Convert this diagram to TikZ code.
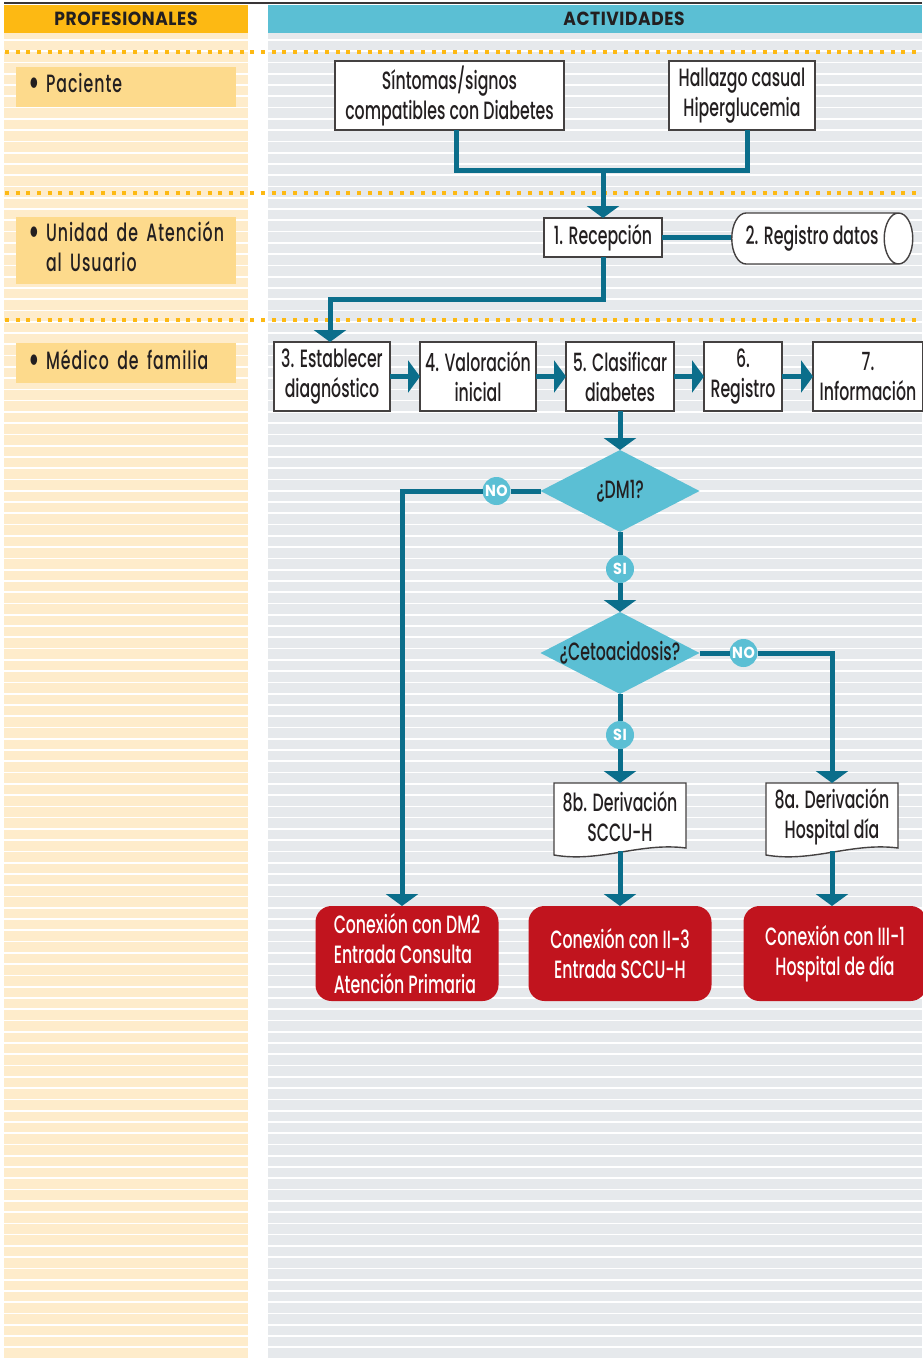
\documentclass[tikz,border=0pt]{standalone}
\usepackage{fontspec}
\setmainfont{Poppins Medium}[FakeStretch=0.63]
\newfontfamily\headfont{Poppins}[FakeStretch=0.9,LetterSpace=3]
\newfontfamily\lblfont{Poppins Medium}[FakeStretch=0.63,LetterSpace=4]
\usetikzlibrary{positioning, arrows.meta, shapes.geometric}

\definecolor{proforange}{HTML}{FDB913}
\definecolor{actblue}{HTML}{5BBFD4}
\definecolor{creambg}{HTML}{FEECCB}
\definecolor{greybg}{HTML}{E6E9EC}
\definecolor{lblfill}{HTML}{FDDA8C}
\definecolor{flowteal}{HTML}{0B6E8B}
\definecolor{connred}{HTML}{C1141E}
\definecolor{inkgrey}{HTML}{231F20}

\pgfdeclarelayer{paper}
\pgfdeclarelayer{docs}
\pgfsetlayers{paper,docs,main}

\newcommand{\prof}[1]{\begin{tabular}{@{}p{18pt}@{}l@{}}{\fontsize{40}{30}\selectfont\raisebox{-4pt}{\textbullet}} & #1\end{tabular}}

\begin{document}
\begin{tikzpicture}[x=1pt, y=-1pt,
      every node/.style={font=\fontsize{25}{30}\selectfont, text=inkgrey},
      box/.style={draw=inkgrey!85, line width=1.4pt, fill=white, outer sep=0pt,
        minimum height=69pt, inner xsep=2pt, inner ysep=2pt, align=center},
      store/.style={cylinder, draw=inkgrey!85, line width=1.4pt, fill=white,
        aspect=0.95, minimum width=51pt, minimum height=181pt, inner sep=2pt},
      doc/.style={minimum width=132pt, minimum height=68pt, inner sep=2pt,
        outer sep=0pt, align=center},
      docline/.style={draw=inkgrey!85, line width=1.4pt, fill=white},
      decision/.style={diamond, fill=actblue, inner sep=0pt, outer sep=0pt,
        aspect=1.94, minimum width=159pt, minimum height=82pt},
      yesno/.style={circle, fill=actblue, minimum size=28pt, inner sep=0pt,
        outer sep=0pt, font=\headfont\bfseries\fontsize{16}{16}\selectfont, text=white},
      exit/.style={rounded corners=16pt, fill=connred, text=white, outer sep=0pt,
        minimum width=183pt, minimum height=95pt, inner sep=2pt, align=center},
      lbl/.style={fill=lblfill, inner xsep=12pt, text width=196pt, align=left,
        font=\lblfont\fontsize{25}{30}\selectfont},
      head/.style={font=\headfont\bfseries\fontsize{19}{19}\selectfont},
      conn/.style={draw=flowteal, line width=5pt},
      arr/.style={conn, -{Triangle[width=32pt, length=12pt]}},
      stripe/.style={white, line width=1.7pt},
      dotline/.style={proforange, line width=4pt, dash pattern=on 4pt off 6.67pt}
    ]
    \useasboundingbox (0,0) rectangle (922,1359);

    % lanes
    \begin{pgfonlayer}{paper}
      \draw[inkgrey!90, line width=2.3pt] (4,3) -- (922,3);
      \fill[proforange] (4,5) rectangle (248,33);
      \fill[actblue] (268,5) rectangle (922,33);
      \fill[creambg] (4,33) rectangle (248,1359);
      \fill[greybg] (268,33) rectangle (922,1359);
      \foreach \k in {0,...,117}
        \draw[stripe] (4,40+11.27*\k) -- (922,40+11.27*\k);
      \foreach \y in {52,193,320}
        \draw[dotline] (5,\y) -- (922,\y);
    \end{pgfonlayer}

    \node[head] (hprof) at (126,19) {PROFESIONALES};
    \node[head] (hact)  at (624,19) {ACTIVIDADES};

    % professionals
    \node[lbl, minimum height=40pt] (lpac) at (126,87)    {\prof{Paciente}};
    \node[lbl, minimum height=67pt] (luni) at (126,250.5) {\prof{Unidad de Atención\\ & al Usuario}};
    \node[lbl, minimum height=40pt] (lmed) at (126,363)   {\prof{Médico de familia}};

    % activities
    \node[box, minimum width=229pt] (sint) at (449.5,95.5) {Síntomas/signos\\compatibles con Diabetes};
    \node[box, minimum width=146pt] (hall) at (742,95.5)   {Hallazgo casual\\Hiperglucemia};
    \node[box, minimum width=118pt, minimum height=39pt] (recep) at (603,237.5) {1. Recepción};
    \node[store] (regdat) at (812,238.5) {2. Registro datos};

    \node[box, minimum width=116pt] (est)  at (332,376.5)    {3. Establecer\\diagnóstico};
    \node[box, minimum width=116pt, right=30pt of est] (val)  {4. Valoración\\inicial};
    \node[box, minimum width=108pt, right=30pt of val] (clas) {5. Clasificar\\diabetes};
    \node[box, minimum width=78pt,  right=30pt of clas] (reg) {6.\\Registro};
    \node[box, minimum width=110pt, right=31pt of reg] (info) {7.\\Información};

    \node[decision, below=39pt of clas] (dm1)  {\makebox[0pt]{¿DM1?}};
    \node[decision, below=80pt of dm1]  (ceto) {\makebox[0pt]{¿Cetoacidosis?}};
    \node[yesno, left=30pt of dm1]   (no1) {NO};
    \node[yesno, below=23pt of dm1]  (si1) {SI};
    \node[yesno, right=30pt of ceto] (no2) {NO};
    \node[yesno, below=27pt of ceto] (si2) {SI};

    \node[doc, below=89pt of ceto] (d8b) {8b. Derivación\\SCCU-H};
    \node[doc, right=80pt of d8b]  (d8a) {8a. Derivación\\Hospital día};

    \node[exit, below=55pt of d8b]  (ii3)  {Conexión con II-3\\Entrada SCCU-H};
    \node[exit, align=left, left=30pt of ii3] (dm2) {Conexión con DM2\\Entrada Consulta\\Atención Primaria};
    \node[exit, right=32pt of ii3]  (iii1) {Conexión con III-1\\Hospital de día};

    \begin{pgfonlayer}{docs}
      \foreach \d in {d8b,d8a}
        \draw[docline] (\d.north west) -- (\d.north east) -- ([yshift=3pt]\d.south east)
          .. controls ([xshift=-46pt,yshift=9pt]\d.south east) and ([xshift=46pt,yshift=-12pt]\d.south west)
          .. ([yshift=-4pt]\d.south west) -- cycle;
    \end{pgfonlayer}

    % connectors
    \coordinate (join) at (603,171);
    \coordinate (drop) at (330,299);
    \draw[conn] ([xshift=7pt]sint.south) |- (join) -| ([xshift=5pt]hall.south);
    \draw[arr] (join) -- (recep);
    \draw[conn] (recep) -- (recep -| regdat.west);
    \draw[arr] (recep) |- (drop) -- (drop |- est.north);
    \draw[arr] (est) -- (val);
    \draw[arr] (val) -- (clas);
    \draw[arr] (clas) -- (reg);
    \draw[arr] (reg) -- (info);
    \draw[arr] (clas) -- (dm1);
    \draw[conn] (dm1) -- (no1);
    \draw[arr] (no1) -| ([xshift=-5pt]dm2.north);
    \draw[conn] (dm1) -- (si1);
    \draw[arr] (si1) -- (ceto);
    \draw[conn] (ceto) -- (no2);
    \draw[arr] (no2) -| (d8a);
    \draw[conn] (ceto) -- (si2);
    \draw[arr] (si2) -- (d8b);
    \draw[arr] (d8b) -- (ii3);
    \draw[arr] (d8a) -- (d8a |- iii1.north);
  \end{tikzpicture}
\end{document}
